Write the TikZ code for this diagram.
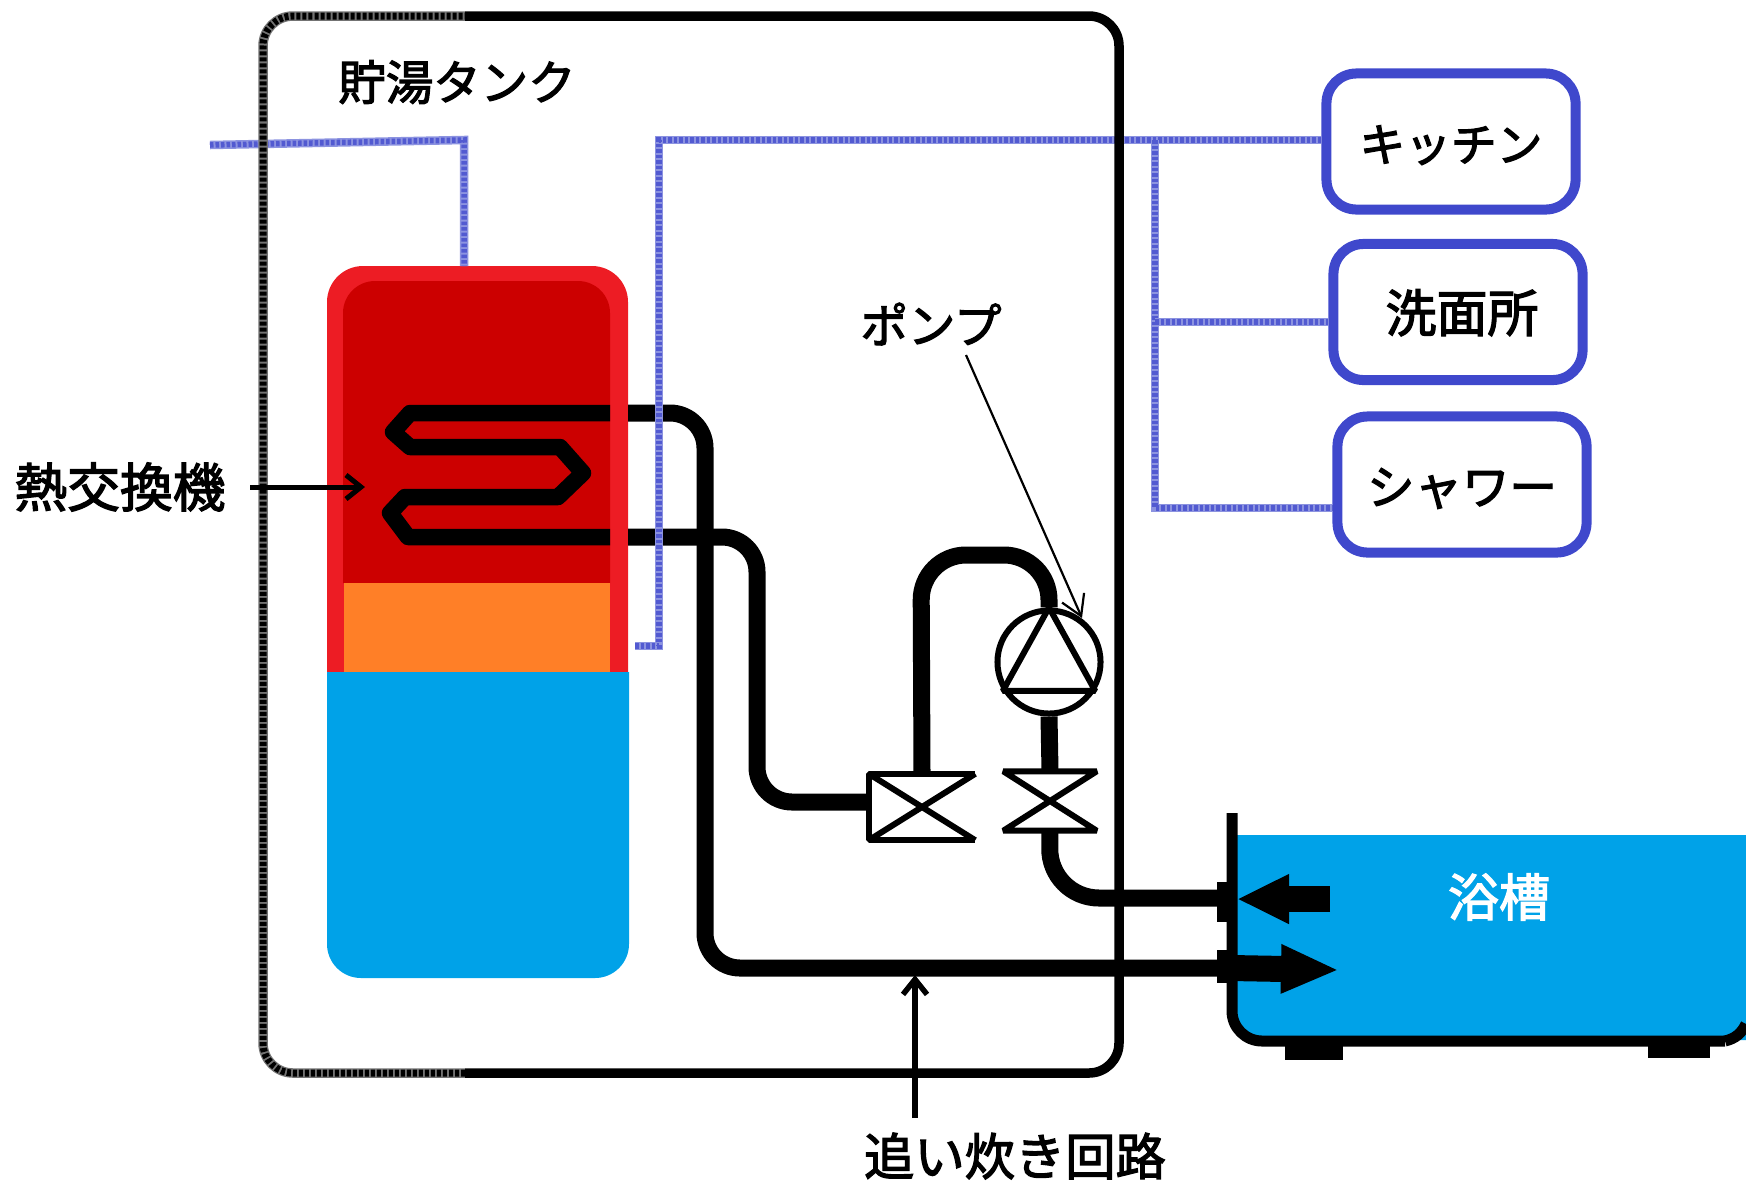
\documentclass[tikz,border=0pt]{standalone}
\usepackage{fontspec}
\usetikzlibrary{arrows.meta}
\newfontfamily\jpfont[FakeBold=2.5]{Noto Sans CJK JP}
\definecolor{wallred}{HTML}{ED1C24}
\definecolor{hotred}{HTML}{CC0000}
\definecolor{warmorange}{HTML}{FF7F27}
\definecolor{coldblue}{HTML}{00A2E8}
\definecolor{tapblue}{HTML}{3F48CC}
\definecolor{linefrayed}{HTML}{8C93E0}
\tikzset{
  pipe/.style={line width=.17cm},
  valveline/.style={line width=.06cm,line join=bevel},
  waterline/.style={color=linefrayed,line width=.085cm,postaction={draw,color=tapblue!90,line width=.055cm,dash pattern=on .035cm off .02cm}},
  tapbox/.style={draw=tapblue,line width=.1cm,rounded corners=.3cm,fill=white,inner sep=0pt,minimum width=2.49cm,minimum height=1.36cm,text height=.4cm,text depth=0pt},
  caption/.style={font=\jpfont\fontsize{13.5}{14}\selectfont,inner sep=0pt},
  casing/.style={color=black!55,line width=.095cm,rounded corners=.3cm,postaction={draw,color=black,line width=.07cm,dash pattern=on .04cm off .02cm}},
  casingdark/.style={line width=.095cm,rounded corners=.3cm}
}
\begin{document}
\begin{tikzpicture}[x=.01cm,y=-.01cm]
  \useasboundingbox (0,0) rectangle (1746,1181);
  % bath
  \fill[coldblue] (1232,835) -- (1746,835) -- (1746,1040) [rounded corners=.3cm] -- (1232,1040) [sharp corners] -- cycle;
  \draw[line width=.11cm,rounded corners=.3cm] (1232,813) -- (1232,1041) -- (1725,1041);
  \draw[line width=.11cm] (1725,1041) to[bend right=25] (1746,1024);
  \fill (1285,1041) rectangle (1343,1060);
  \fill (1648,1041) rectangle (1710,1058);
  % storage tank
  \fill[wallred] (327,672) [rounded corners=.36cm] -- (327,266) -- (628,266) [sharp corners] -- (628,672) -- cycle;
  \fill[hotred] (343,583) [rounded corners=.32cm] -- (343,281) -- (610,281) [sharp corners] -- (610,583) -- cycle;
  \fill[warmorange] (344,583) rectangle (610,672);
  \fill[coldblue] (327,672) -- (629,672) [rounded corners=.34cm] -- (629,978) -- (327,978) [sharp corners] -- cycle;
  % coil
  \coordinate (coilin) at (610,413);
  \coordinate (coilout) at (610,537);
  \coordinate (wallin) at (628,413);
  \coordinate (wallout) at (628,537);
  \draw[line width=.165cm,line join=round] (coilin) -- (410,413) -- (393,432) -- (410,447) -- (560,447) -- (583,473) -- (558,497) -- (405,497) -- (390,513) -- (408,537) -- (coilout);
  % pump and valves
  \node[circle,draw,valveline,fill=white,minimum size=1.03cm,inner sep=0pt] (pump) at (1049,662) {};
  \node[minimum width=1.05cm,minimum height=.65cm,inner sep=0pt] (valvea) at (922,807) {};
  \node[minimum width=.92cm,minimum height=.58cm,inner sep=0pt] (valveb) at (1050,801) {};
  \coordinate (bathin) at (1339,970);
  \coordinate (bathoutend) at (1232,898);
  \coordinate (bathback) at (1232,968);
  \draw[valveline] (valvea.north east) -- (valvea.north west) -- (valvea.south west) -- (valvea.south east);
  \draw[valveline] (valvea.north east) -- (valvea.south west);
  \draw[valveline] (valvea.north west) -- (valvea.south east);
  \draw[valveline] (valveb.north west) -- (valveb.north east) -- (valveb.south west) -- (valveb.south east) -- cycle;
  \draw[valveline] (pump.north) -- (pump.212) -- (pump.328) -- cycle;
  \draw[pipe,rounded corners=.35cm] (wallin) -- (705,413) -- (705,968) -- (bathback);
  \draw[pipe,rounded corners=.35cm] (wallout) -- (757,537) -- (757,802) -- (valvea.west |- 757,802);
  \draw[pipe,rounded corners=.45cm] (valvea.north) -- (921,555) -- (1049,555) -- (pump.north);
  \draw[pipe] (pump.south) -- (valveb.north);
  \draw[pipe,rounded corners=.5cm] (valveb.south) -- (1049,898) -- (bathoutend);
  % flanges
  \fill (1217,882) rectangle (1232,922);
  \fill (1217,950) rectangle (1232,983);
  % water lines
  \coordinate (mainsin) at (210,145);
  \coordinate (tankin) at (464,266);
  \coordinate (tankoff) at (635,646);
  \coordinate (branch) at (1155,140);
  \node[tapbox,font=\jpfont\fontsize{13}{14}\selectfont] (kitchen) at (1451,141.5) {キッチン};
  \node[tapbox,font=\jpfont\fontsize{14.5}{15}\selectfont] (washroom) at (1458,312) {\hspace*{.08cm}洗面所};
  \node[tapbox,font=\jpfont\fontsize{13.5}{14}\selectfont] (shower) at (1462,484.5) {シャワー};
  \draw[waterline] (mainsin) -- (464,140) -- (tankin);
  \draw[waterline] (tankoff) -- (659,646) -- (659,140) -- (kitchen.west |- 659,140);
  \draw[waterline] (branch) -- (1155,508) -- (shower.west |- 1155,508);
  \draw[waterline] (1155,322) -- (washroom.west |- 1155,322);
  % casing
  \draw[casing] (465,1073) -- (263,1073) -- (263,16) -- (465,16);
  \draw[casingdark] (465,16) -- (1119,16) -- (1119,1073) -- (465,1073);
  % bath arrows
  \draw[-{Triangle[length=.52cm,width=.46cm]},line width=.26cm] (1330,899) -- (1237,899);
  \draw[-{Triangle[length=.58cm,width=.45cm]},line width=.26cm] (bathback) -- (bathin);
  % labels
  \node[caption] (tanklabel) at (457,82) {貯湯タンク};
  \node[caption,font=\jpfont\fontsize{15}{15}\selectfont] (coillabel) at (120,487) {熱交換機};
  \node[caption] (pumplabel) at (931,324) {ポンプ};
  \node[caption,font=\jpfont\fontsize{14.3}{15}\selectfont] (looplabel) at (1015,1156) {追い炊き回路};
  \node[caption,text=white,font=\jpfont\fontsize{14.5}{15}\selectfont] (bathlabel) at (1499,897) {浴槽};
  \coordinate (coiltip) at (365,487);
  \coordinate (looptip) at (915,975);
  \coordinate (pumptip) at (1082,618);
  \coordinate (coiltail) at (250,487);
  \coordinate (looptail) at (915,1118);
  \coordinate (pumptail) at (966,355);
  \draw[-{Straight Barb[length=.15cm,width=.24cm]},line width=.05cm] (coiltail) -- (coiltip);
  \draw[-{Straight Barb[length=.15cm,width=.24cm]},line width=.055cm] (looptail) -- (looptip);
  \draw[-{Straight Barb[length=.2cm,width=.24cm]},line width=.022cm] (pumptail) -- (pumptip);
\end{tikzpicture}
\end{document}
